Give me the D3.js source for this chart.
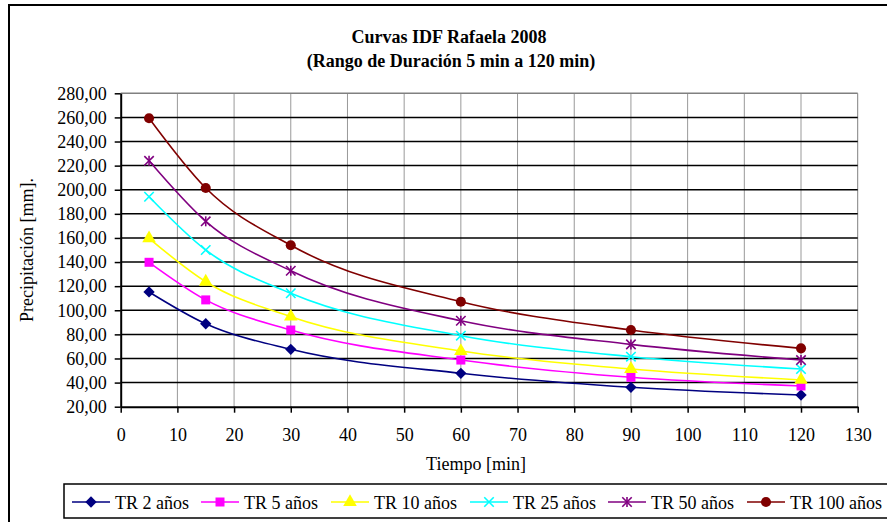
<!DOCTYPE html>
<html>
<head>
<meta charset="UTF-8">
<script src="https://d3js.org/d3.v7.min.js"></script>
<style>
    body { margin: 0; background: white; overflow: hidden; }
    svg { display: block; }
</style>
</head>
<body>
<svg id="chart" width="887" height="522"></svg>
<script>
// durations (min) and precipitation (mm) per return period
const durations = [5, 15, 30, 60, 90, 120];
const tr2   = [115.2, 88.8, 67.6, 47.7, 36.1, 29.7];
const tr5   = [139.8, 108.6, 83.6, 58.7, 44.4, 37.2];
const tr10  = [159.7, 123.7, 94.7, 66.2, 51.3, 42.2];
const tr25  = [194.2, 150.0, 114.1, 78.9, 61.5, 51.3];
const tr50  = [224.0, 173.8, 132.8, 91.3, 71.7, 58.7];
const tr100 = [259.3, 201.4, 153.9, 107.1, 83.6, 68.4];
const seriesNames = ["TR 2 años", "TR 5 años", "TR 10 años", "TR 25 años", "TR 50 años", "TR 100 años"];
const xTicks = d3.range(0, 131, 10);
const yTicks = d3.range(20, 281, 20);

const FONT = "Liberation Serif";
const FS = 18;
const colors  = ["#000080", "#ff00ff", "#ffff00", "#00ffff", "#800080", "#800000"];
const symbols = ["diamond", "square", "triangle", "times", "asterisk", "circle"];
const series = [tr2, tr5, tr10, tr25, tr50, tr100].map((vals, i) => ({
    name: seriesNames[i], color: colors[i], symbol: symbols[i],
    points: durations.map((d, j) => ({x: d, y: vals[j]}))
}));

const svg = d3.select("#chart");
const locale = d3.formatLocale({decimal: ",", thousands: ".", grouping: [3], currency: ["$", ""]});
const fmt = locale.format(".2f");

// outer chart frame
svg.append("rect")
    .attr("x", 9).attr("y", 5).attr("width", 900).attr("height", 540)
    .attr("fill", "white").attr("stroke", "#000").attr("stroke-width", 2);

const x = d3.scaleLinear().domain([0, 130]).range([120.7, 857.7]);
const y = d3.scaleLinear().domain([20, 280]).range([406.7, 93.3]);

// gridlines
svg.append("g").selectAll("line").data(xTicks.slice(1)).join("line")
    .attr("x1", d => x(d)).attr("x2", d => x(d))
    .attr("y1", y(280)).attr("y2", y(20))
    .attr("stroke", d => d === 130 ? "#808080" : "#999").attr("stroke-width", 1);
svg.append("g").selectAll("line").data(yTicks.slice(1)).join("line")
    .attr("x1", x(0)).attr("x2", x(130))
    .attr("y1", d => y(d)).attr("y2", d => y(d))
    .attr("stroke", d => d === 280 ? "#808080" : "#000").attr("stroke-width", 1.5);

// axes
const xAxis = svg.append("g")
    .attr("transform", `translate(0,${y(20)})`)
    .call(d3.axisBottom(x).tickValues(xTicks).tickSize(6).tickPadding(16).tickSizeOuter(0));
const yAxis = svg.append("g")
    .attr("transform", `translate(${x(0)},0)`)
    .call(d3.axisLeft(y).tickValues(yTicks).tickFormat(fmt).tickSize(6).tickPadding(8).tickSizeOuter(0));
[xAxis, yAxis].forEach(a => {
    a.attr("font-family", FONT).attr("font-size", FS);
    a.select(".domain").attr("stroke", "#000").attr("stroke-width", 2);
    a.selectAll(".tick line").attr("stroke", "#000").attr("stroke-width", 1.5);
    a.selectAll(".tick text").attr("fill", "#000");
});

// lines
const line = d3.line().x(d => x(d.x)).y(d => y(d.y)).curve(d3.curveMonotoneX);
svg.append("g").selectAll("path").data(series).join("path")
    .attr("d", d => line(d.points))
    .attr("fill", "none").attr("stroke", d => d.color).attr("stroke-width", 1.6);

// markers
function marker(sel, s) {
    const c = s.color;
    if (s.symbol === "diamond") {
        sel.append("path").attr("d", d3.symbol(d3.symbolSquare, 64)())
            .attr("transform", "rotate(45)").attr("fill", c);
    } else if (s.symbol === "square") {
        sel.append("path").attr("d", d3.symbol(d3.symbolSquare, 81)()).attr("fill", c);
    } else if (s.symbol === "triangle") {
        sel.append("path").attr("d", d3.symbol(d3.symbolTriangle, 80)()).attr("fill", c);
    } else if (s.symbol === "circle") {
        sel.append("path").attr("d", d3.symbol(d3.symbolCircle, 80)()).attr("fill", c);
    } else if (s.symbol === "times") {
        sel.append("path").attr("d", d3.symbol(d3.symbolTimes, 60)())
            .attr("fill", "none").attr("stroke", c).attr("stroke-width", 1.6);
    } else {
        sel.append("path").attr("d", d3.symbol(d3.symbolTimes, 60)())
            .attr("fill", "none").attr("stroke", c).attr("stroke-width", 1.6);
        sel.append("line").attr("y1", -5).attr("y2", 5)
            .attr("stroke", c).attr("stroke-width", 1.6);
    }
}
series.forEach(s => {
    svg.append("g").selectAll("g").data(s.points).join("g")
        .attr("transform", d => `translate(${x(d.x)},${y(d.y)})`)
        .each(function() { marker(d3.select(this), s); });
});

// titles
function label(xp, yp, txt, bold) {
    return svg.append("text").attr("x", xp).attr("y", yp).attr("text-anchor", "middle")
        .attr("font-family", FONT).attr("font-size", FS)
        .attr("font-weight", bold ? "bold" : "normal").text(txt);
}
label(449, 43, "Curvas IDF Rafaela 2008", true);
label(451, 67, "(Rango de Duración 5 min a 120 min)", true);
label(476, 470, "Tiempo [min]", false);
label(0, 0, "Precipitación [mm].", false).attr("transform", "translate(33,250) rotate(-90)");

// legend
svg.append("rect").attr("x", 64).attr("y", 484).attr("width", 840).attr("height", 34)
    .attr("fill", "white").attr("stroke", "#000").attr("stroke-width", 1.5);
const legendX = [72, 201, 331, 470, 608, 747];
series.forEach((s, i) => {
    const g = svg.append("g").attr("transform", `translate(${legendX[i]},502)`);
    g.append("line").attr("x1", 0).attr("x2", 38).attr("stroke", s.color).attr("stroke-width", 1.6);
    const m = g.append("g").attr("transform", "translate(19,0)");
    marker(m, s);
    g.append("text").attr("x", 43).attr("y", 7)
        .attr("font-family", FONT).attr("font-size", FS).text(s.name);
});
</script>
</body>
</html>
